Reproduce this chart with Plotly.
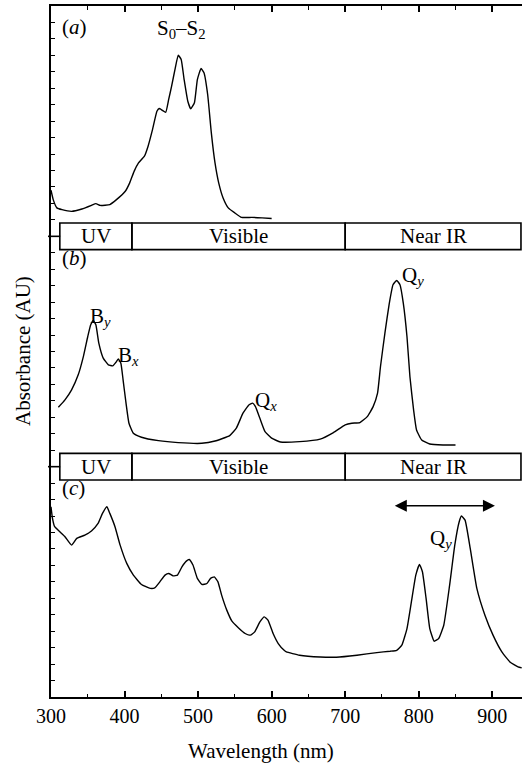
import plotly.graph_objects as go

# ---- data ----
a_wl = [300, 303, 308, 315, 328, 342, 355, 361, 367, 380, 389, 401, 407, 413, 419, 427, 432, 438, 444, 447,
        451, 456, 460, 464, 469, 473, 477, 481, 486, 490, 495, 499, 504, 508, 513, 518, 523, 528, 534, 541,
        550, 559, 573, 587, 600]
a_abs = [2.80, 2.23, 1.73, 1.62, 1.52, 1.66, 1.88, 1.99, 1.88, 1.93, 2.23, 2.74, 3.25, 3.95, 4.46, 4.87, 5.48,
         6.49, 7.60, 7.77, 7.67, 7.54, 8.32, 9.13, 10.24, 11.01, 10.75, 9.53, 8.21, 7.75, 8.12, 9.53, 10.20,
         9.94, 8.62, 6.29, 4.46, 3.25, 2.33, 1.73, 1.42, 1.15, 1.15, 1.12, 1.08]

b_wl = [310, 319, 328, 337, 344, 350, 354, 357.5, 361, 365, 371, 378, 384, 388, 391.5, 395, 398, 402, 406, 412,
        423, 446, 473, 505, 523, 543, 552, 561, 569, 574, 578, 584, 591, 600, 612, 638, 666, 684, 700, 709,
        720, 730, 738, 744, 748, 754, 760, 765, 770, 774.5, 779, 784, 788, 793, 797, 804, 815, 833, 850]
b_abs = [3.61, 4.06, 4.67, 5.58, 6.69, 7.91, 8.62, 8.88, 8.62, 7.51, 6.60, 6.19, 6.13, 6.33, 6.54, 6.29, 5.28,
         3.86, 2.64, 2.03, 1.79, 1.58, 1.46, 1.42, 1.56, 1.89, 2.34, 3.25, 3.75, 3.86, 3.65, 2.94, 2.13, 1.73,
         1.50, 1.52, 1.67, 2.07, 2.54, 2.64, 2.68, 3.04, 3.65, 4.47, 6.09, 8.12, 9.94, 11.06, 11.32, 11.06,
         9.94, 7.91, 5.48, 3.45, 2.23, 1.62, 1.38, 1.32, 1.32]

c_wl = [300, 302, 305, 312, 319, 328, 335, 346, 355, 364, 370, 376, 380, 387, 394, 403, 412, 423, 435, 441,
        448, 455, 460, 466, 472, 478, 484, 488, 493, 499, 505, 512, 517, 522, 527, 532, 539, 546, 555, 564,
        571, 577, 584, 590, 595, 602, 609, 617, 620, 638, 666, 688, 716, 743, 761, 770, 777, 784, 790, 796,
        801, 805, 810, 815, 821, 827, 834, 842, 849, 855, 858, 863, 870, 879, 890, 901, 913, 924, 935, 940]
c_abs = [11.56, 10.86, 10.35, 10.04, 9.74, 9.23, 9.64, 9.84, 10.09, 10.55, 11.16, 11.56, 11.16, 10.35, 9.23,
         8.12, 7.41, 6.84, 6.60, 6.63, 7.00, 7.41, 7.51, 7.36, 7.41, 7.91, 8.26, 8.36, 8.02, 7.21, 6.84, 6.90,
         7.21, 7.30, 7.00, 6.19, 5.28, 4.61, 4.20, 3.86, 3.76, 3.96, 4.56, 4.87, 4.67, 3.86, 3.25, 2.84, 2.74,
         2.54, 2.43, 2.42, 2.54, 2.70, 2.78, 2.84, 3.15, 4.16, 5.78, 7.41, 8.06, 7.61, 5.99, 4.16, 3.39, 3.55,
         4.36, 6.80, 9.23, 10.65, 11.0, 10.75, 9.03, 6.60, 4.97, 3.76, 2.74, 2.13, 1.83, 1.77]

panel_offsets = [28, 14, 0]
panel_labels = ["(<i>a</i>)", "(<i>b</i>)", "(<i>c</i>)"]

band_names = ["UV", "Visible", "Near IR"]
band_edges = [312, 410, 700, 939]
band_centers = [14, 28]   # vertical centre of the region bars
band_half = 0.81

tick_vals = [300, 400, 500, 600, 700, 800, 900]
x_range = [300, 940.4]
y_range = [0, 42]

FONT = "Times New Roman, Liberation Serif, Times, serif"

fig = go.Figure()
for wl, ab, off in zip([a_wl, b_wl, c_wl], [a_abs, b_abs, c_abs], panel_offsets):
    fig.add_trace(go.Scatter(x=wl, y=[v + off for v in ab], mode="lines",
                             line=dict(color="black", width=1.4, shape="spline", smoothing=0.4),
                             showlegend=False, hoverinfo="skip"))

shapes = []
annotations = []
for yc in band_centers:
    for i, name in enumerate(band_names):
        shapes.append(dict(type="rect", xref="x", yref="y", x0=band_edges[i], x1=band_edges[i + 1],
                           y0=yc - band_half, y1=yc + band_half, line=dict(color="black", width=1.6)))
        annotations.append(dict(x=(band_edges[i] + band_edges[i + 1]) / 2, y=yc, xref="x", yref="y",
                                text=name, showarrow=False, font=dict(family=FONT, size=21, color="black"),
                                xanchor="center", yanchor="middle"))
    shapes.append(dict(type="line", xref="paper", yref="y", x0=-0.0064, x1=0.0195, y0=yc, y1=yc,
                       line=dict(color="black", width=1.6)))

label_font = dict(family=FONT, size=21, color="black")
for lab, off in zip(panel_labels, panel_offsets):
    annotations.append(dict(x=312, y=off + 12.7, xref="x", yref="y", text=lab, showarrow=False,
                            font=label_font, xanchor="left", yanchor="middle"))

# peak labels
annotations += [
    dict(x=478, y=28 + 12.6, text="S<sub>0</sub>–S<sub>2</sub>", xanchor="center"),
    dict(x=350, y=14 + 9.1, text="B<sub><i>y</i></sub>", xanchor="left"),
    dict(x=389, y=14 + 6.7, text="B<sub><i>x</i></sub>", xanchor="left"),
    dict(x=574.5, y=14 + 4.0, text="Q<sub><i>x</i></sub>", xanchor="left"),
    dict(x=774.5, y=14 + 11.6, text="Q<sub><i>y</i></sub>", xanchor="left"),
    dict(x=813, y=9.6, text="Q<sub><i>y</i></sub>", xanchor="left"),
]
for ann in annotations[-6:]:
    ann.update(xref="x", yref="y", showarrow=False, font=label_font, yanchor="middle")

# double-headed arrow
annotations.append(dict(x=903.6, y=11.62, ax=765.4, ay=11.62, xref="x", yref="y", axref="x", ayref="y",
                        text="", showarrow=True, arrowhead=2, startarrowhead=2, arrowside="end+start",
                        arrowsize=1.6, startarrowsize=1.6, arrowwidth=1.5, arrowcolor="black"))

# axis titles
annotations.append(dict(x=0.446, y=-0.078, xref="paper", yref="paper", text="Wavelength (nm)",
                        showarrow=False, font=dict(family=FONT, size=21, color="black"),
                        xanchor="center", yanchor="middle"))
annotations.append(dict(x=-0.0605, y=0.5, xref="paper", yref="paper", text="Absorbance (AU)",
                        showarrow=False, textangle=-90, font=dict(family=FONT, size=21, color="black"),
                        xanchor="center", yanchor="middle"))

fig.update_layout(
    width=522, height=764,
    margin=dict(l=51, r=0, t=6, b=67),
    paper_bgcolor="white", plot_bgcolor="white",
    shapes=shapes, annotations=annotations,
    font=dict(family=FONT, size=20, color="black"),
    xaxis=dict(range=x_range, tickvals=tick_vals, ticks="inside", ticklen=6, tickwidth=1.5,
               tickcolor="black", showline=True, linewidth=2, linecolor="black", mirror="ticks",
               showgrid=False, zeroline=False,
               tickfont=dict(family=FONT, size=20, color="black"),
               minor=dict(ticks="inside", ticklen=3.5, tickwidth=1.2, tickcolor="black", dtick=50,
                          tick0=300, showgrid=False)),
    yaxis=dict(range=y_range, dtick=1, tick0=0, ticks="inside", ticklen=4, tickwidth=1.2,
               tickcolor="black", showline=True, linewidth=2, linecolor="black",
               showticklabels=False, showgrid=False, zeroline=False),
)

fig.write_html("out.html")
